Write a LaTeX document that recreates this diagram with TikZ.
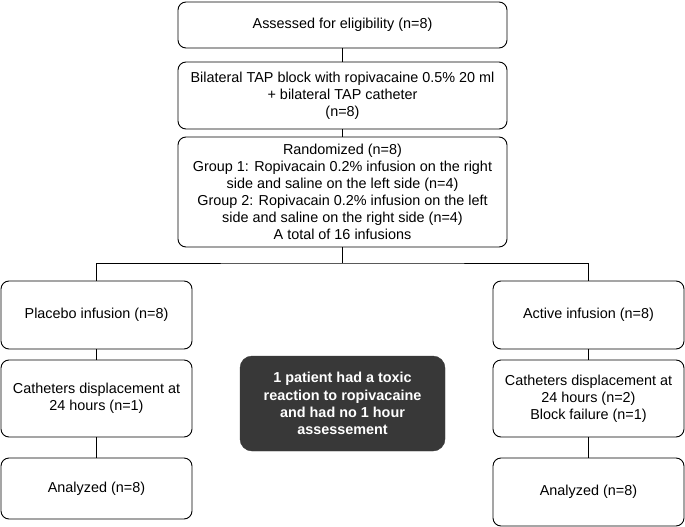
\documentclass[tikz,border=0pt]{standalone}
\usepackage{fontspec}
\setmainfont{Liberation Sans}
\usetikzlibrary{positioning}

\newcommand{\midx}{342.5}
\newcommand{\leftx}{96.5}
\newcommand{\rightx}{588.5}
\newcommand{\splity}{263}

\tikzset{
  flowbox/.style={draw, line width=0.9pt, rounded corners=8pt, align=center, inner sep=0pt,
    font=\fontsize{14.4}{17}\selectfont},
  topbox/.style={flowbox, minimum width=329pt},
  sidebox/.style={flowbox, minimum width=191pt},
  darkbox/.style={fill=black!78, draw=black!78, rounded corners=12pt, align=center, inner sep=0pt,
    text=white, font=\fontsize{14.4}{17.3}\selectfont\bfseries, minimum width=205pt, minimum height=95pt},
  link/.style={line width=0.9pt}
}

\begin{document}
\begin{tikzpicture}[x=1pt,y=-1pt]
                    \useasboundingbox (0,0) rectangle (685,527);
                    \node [topbox, minimum height=46pt] (assess) at (\midx,25) {Assessed for eligibility (n=8)};
                    \node [topbox, minimum height=67pt] (tap) at (\midx,95.5) {Bilateral TAP block with ropivacaine 0.5\% 20 ml\\+ bilateral TAP catheter\\(n=8)};
                    \node [topbox, minimum height=110pt] (rand) at (\midx,192) {Randomized (n=8)\\Group 1: Ropivacain 0.2\% infusion on the right\\side and saline on the left side (n=4)\\Group 2: Ropivacain 0.2\% infusion on the left\\side and saline on the right side (n=4)\\A total of 16 infusions};
                    \coordinate (split) at (\midx,\splity);

                    \node [sidebox, minimum height=68pt] (placebo) at (\leftx,315) {Placebo infusion (n=8)};
                    \node [sidebox, minimum height=77pt] (catleft) at (\leftx,398.5) {Catheters displacement at\\24 hours (n=1)};
                    \node [sidebox, minimum height=61pt] (analleft) at (\leftx,488.5) {Analyzed (n=8)};

                    \node [sidebox, minimum height=68pt] (active) at (\rightx,315) {Active infusion (n=8)};
                    \node [sidebox, minimum height=77pt] (catright) at (\rightx,398.5) {Catheters displacement at\\24 hours (n=2)\\Block failure (n=1)};
                    \node [sidebox, minimum height=68pt] (analright) at (\rightx,492) {Analyzed (n=8)};

                    \node [darkbox] (toxic) at (\midx,403.5) {1 patient had a toxic\\reaction to ropivacaine\\and had no 1 hour\\assessement};

                    \draw [link] (assess) -- (tap);
                    \draw [link] (tap) -- (rand);
                    \draw [link] (rand) -- (split);
                    \draw [link] (placebo.north) |- (split) -| (active.north);
                    \draw [link] (placebo) -- (catleft);
                    \draw [link] (catleft) -- (analleft);
                    \draw [link] (active) -- (catright);
                    \draw [link] (catright) -- (analright);
                \end{tikzpicture}
\end{document}
